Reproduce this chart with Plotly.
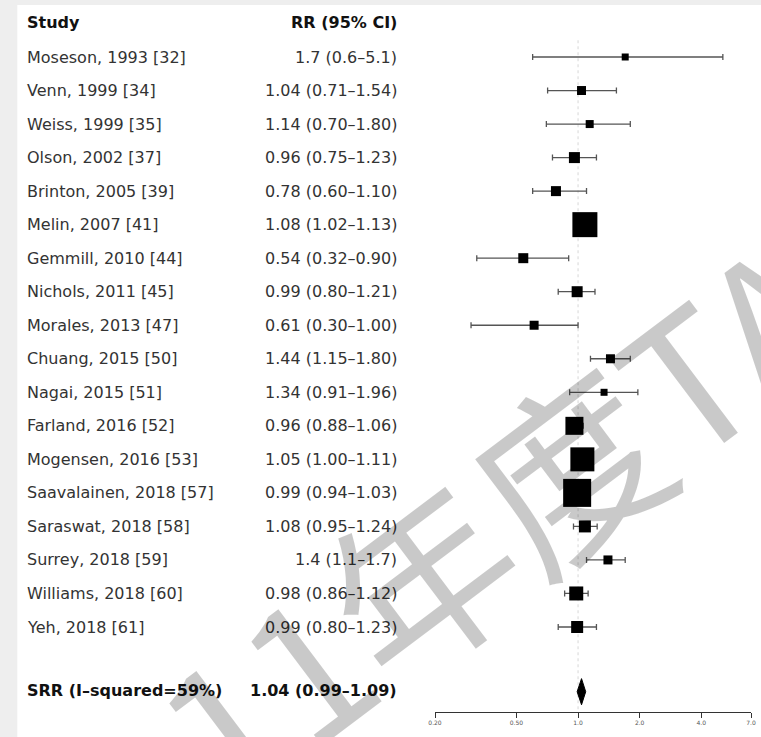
import plotly.graph_objects as go

studies = ["Moseson, 1993 [32]", "Venn, 1999 [34]", "Weiss, 1999 [35]", "Olson, 2002 [37]",
           "Brinton, 2005 [39]", "Melin, 2007 [41]", "Gemmill, 2010 [44]", "Nichols, 2011 [45]",
           "Morales, 2013 [47]", "Chuang, 2015 [50]", "Nagai, 2015 [51]", "Farland, 2016 [52]",
           "Mogensen, 2016 [53]", "Saavalainen, 2018 [57]", "Saraswat, 2018 [58]", "Surrey, 2018 [59]",
           "Williams, 2018 [60]", "Yeh, 2018 [61]"]
rr = [1.7, 1.04, 1.14, 0.96, 0.78, 1.08, 0.54, 0.99, 0.61, 1.44, 1.34, 0.96, 1.05, 0.99, 1.08, 1.4, 0.98, 0.99]
ci_low = [0.6, 0.71, 0.70, 0.75, 0.60, 1.02, 0.32, 0.80, 0.30, 1.15, 0.91, 0.88, 1.00, 0.94, 0.95, 1.1, 0.86, 0.80]
ci_high = [5.1, 1.54, 1.80, 1.23, 1.10, 1.13, 0.90, 1.21, 1.00, 1.80, 1.96, 1.06, 1.11, 1.03, 1.24, 1.7, 1.12, 1.23]
rr_labels = ["1.7 (0.6–5.1)", "1.04 (0.71–1.54)", "1.14 (0.70–1.80)", "0.96 (0.75–1.23)",
             "0.78 (0.60–1.10)", "1.08 (1.02–1.13)", "0.54 (0.32–0.90)", "0.99 (0.80–1.21)",
             "0.61 (0.30–1.00)", "1.44 (1.15–1.80)", "1.34 (0.91–1.96)", "0.96 (0.88–1.06)",
             "1.05 (1.00–1.11)", "0.99 (0.94–1.03)", "1.08 (0.95–1.24)", "1.4 (1.1–1.7)",
             "0.98 (0.86–1.12)", "0.99 (0.80–1.23)"]
box_size = [7, 9, 8, 11, 10, 25, 10, 11, 9, 9, 7, 18, 24, 28, 12, 9, 14, 12]

summary_label = "SRR (I–squared=59%)"
summary_text = "1.04 (0.99–1.09)"
summary_rr, summary_lo, summary_hi = 1.04, 0.99, 1.09

tick_vals = [0.2, 0.5, 1.0, 2.0, 4.0, 7.0]
tick_text = ["0.20", "0.50", "1.0", "2.0", "4.0", "7.0"]

watermark = "11年度TA"

rows = list(range(len(studies)))
header_row = -1.04
summary_row = 18.93
diamond_half = 0.39

W, H = 761, 737
ml, mr, mt, mb = 435, 6, 5, 25
pw = W - ml - mr
ph = H - mt - mb


def px_to_paper_x(px):
    return (px - ml) / pw


def px_to_paper_y(py):
    return (H - mb - py) / ph


fig = go.Figure()

fig.add_trace(go.Scatter(
    x=rr, y=rows, mode="markers",
    marker=dict(symbol="square", size=box_size, color="black", opacity=1, line=dict(width=0)),
    error_x=dict(type="data", symmetric=False,
                 array=[h - r for h, r in zip(ci_high, rr)],
                 arrayminus=[r - l for r, l in zip(rr, ci_low)],
                 color="#555555", thickness=1.3, width=3),
    hoverinfo="skip", showlegend=False,
))

fig.add_trace(go.Scatter(
    x=[summary_lo, summary_rr, summary_hi, summary_rr, summary_lo],
    y=[summary_row, summary_row - diamond_half, summary_row, summary_row + diamond_half, summary_row],
    mode="lines", fill="toself", fillcolor="black", line=dict(color="black", width=1),
    hoverinfo="skip", showlegend=False,
))

shapes = [
    dict(type="rect", xref="paper", yref="paper", layer="below",
         x0=px_to_paper_x(12), x1=px_to_paper_x(W + 5), y0=px_to_paper_y(H + 5), y1=px_to_paper_y(5),
         fillcolor="white", line=dict(width=0)),
    dict(type="line", xref="x", yref="y", layer="below", x0=1, x1=1, y0=-0.5, y1=19.6,
         line=dict(color="#d8d8d8", width=1, dash="dot")),
]

annotations = []
name_x = px_to_paper_x(20)
val_x = px_to_paper_x(399)
font_reg = dict(family="DejaVu Sans", size=16, color="#333333")
font_bold = dict(family="DejaVu Sans", size=16, color="#111111")

annotations.append(dict(x=name_x, y=header_row, xref="paper", yref="y", text="<b>Study</b>",
                        xanchor="left", yanchor="middle", showarrow=False, font=font_bold))
annotations.append(dict(x=val_x, y=header_row, xref="paper", yref="y", text="<b>RR (95% CI)</b>",
                        xanchor="right", yanchor="middle", showarrow=False, font=font_bold))
for r, s, lab in zip(rows, studies, rr_labels):
    annotations.append(dict(x=name_x, y=r, xref="paper", yref="y", text=s,
                            xanchor="left", yanchor="middle", showarrow=False, font=font_reg))
    annotations.append(dict(x=val_x, y=r, xref="paper", yref="y", text=lab,
                            xanchor="right", yanchor="middle", showarrow=False, font=font_reg))
annotations.append(dict(x=name_x, y=summary_row - 0.05, xref="paper", yref="y", text="<b>" + summary_label + "</b>",
                        xanchor="left", yanchor="middle", showarrow=False, font=font_bold))
annotations.append(dict(x=val_x, y=summary_row - 0.05, xref="paper", yref="y", text="<b>" + summary_text + "</b>",
                        xanchor="right", yanchor="middle", showarrow=False, font=font_bold))

# watermark
annotations.append(dict(x=px_to_paper_x(495), y=px_to_paper_y(515), xref="paper", yref="paper",
                        text=watermark, textangle=-37, showarrow=False,
                        xanchor="center", yanchor="middle",
                        font=dict(family="Noto Sans CJK SC", size=185, color="rgba(0,0,0,0.21)")))

fig.update_layout(
    width=W, height=H,
    margin=dict(l=ml, r=mr, t=mt, b=mb, pad=0),
    paper_bgcolor="#eeeeee", plot_bgcolor="rgba(0,0,0,0)",
    shapes=shapes, annotations=annotations,
    xaxis=dict(type="log", range=[-0.69897, 0.845098], tickvals=tick_vals, ticktext=tick_text,
               showgrid=False, zeroline=False, showline=True, linecolor="#333333", linewidth=1,
               ticks="outside", ticklen=5, tickcolor="#333333", tickwidth=1,
               tickfont=dict(family="DejaVu Sans", size=6, color="#555555")),
    yaxis=dict(range=[19.535, -1.551], visible=False, showgrid=False, zeroline=False),
)

fig.write_html("out.html", config={"displayModeBar": False},
               post_script="document.body.style.margin='0';document.body.style.overflow='hidden';")
